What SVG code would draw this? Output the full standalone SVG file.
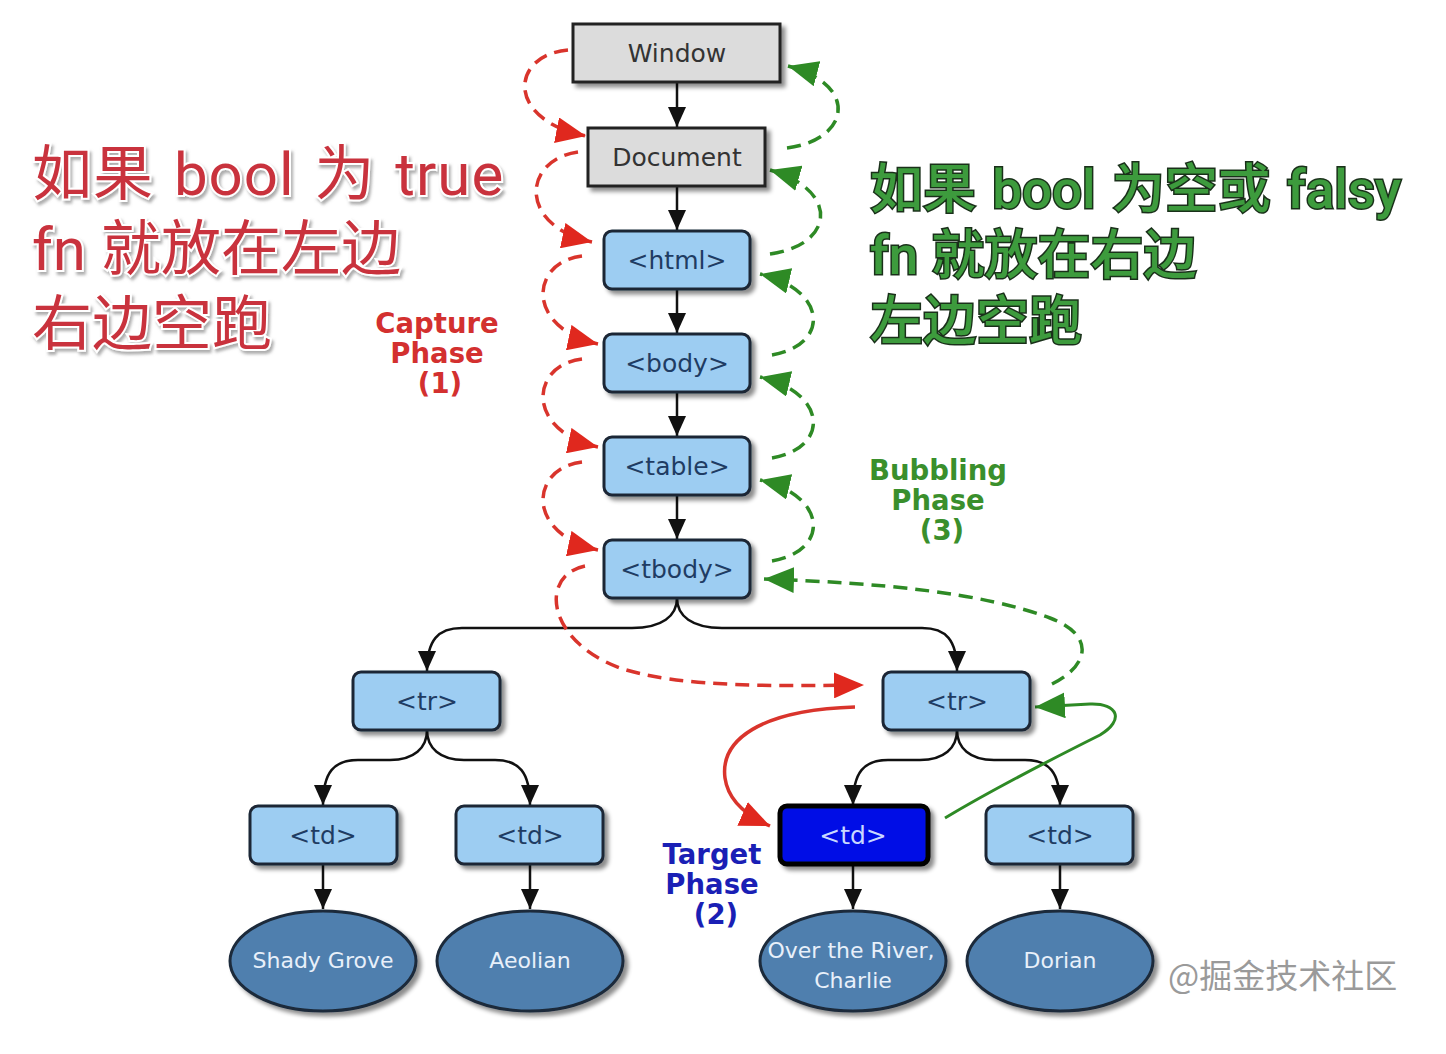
<svg xmlns="http://www.w3.org/2000/svg" width="1446" height="1054" viewBox="0 0 1446 1054">
<style>
.gbox{fill:#dcdcdc;stroke:#222;stroke-width:3}
.bbox{fill:#9dcdf2;stroke:#1c2836;stroke-width:3}
.tbox{fill:#0010e6;stroke:#000;stroke-width:5}
.ell{fill:#4f7fae;stroke:#1c2a3a;stroke-width:3}
.lbl{font-family:"DejaVu Sans",Verdana,sans-serif;font-size:25px;text-anchor:middle}
.dk{fill:#333}
.bl{fill:#1f3c63}
.wt{fill:#e8f0fa;font-size:22px}
.tl{fill:#c8d8ff}
.blk{fill:none;stroke:#111;stroke-width:2.5}
.rd{fill:none;stroke:#d9342c;stroke-width:3.5;stroke-dasharray:14 8}
.gd{fill:none;stroke:#2e8a25;stroke-width:3.5;stroke-dasharray:14 8}
.rs{fill:none;stroke:#d9342c;stroke-width:3.5}
.gs{fill:none;stroke:#2e8a25;stroke-width:3}
.phase{font-family:"DejaVu Sans",Verdana,sans-serif;font-weight:bold;font-size:27.5px;text-anchor:middle}
.big{font-family:Roboto,"Noto Sans CJK SC",sans-serif}
.redbig{fill:#c9333d;stroke:#fff;stroke-width:4;paint-order:stroke;font-size:60px}
.grnbig{fill:#3d9b3d;stroke:#1a301a;stroke-width:3;paint-order:stroke;font-size:53px;font-weight:500}
</style>
<defs>
<filter id="sh" x="-20%" y="-20%" width="140%" height="150%"><feDropShadow dx="4" dy="4" stdDeviation="2" flood-color="#000" flood-opacity="0.45"/></filter>
<filter id="tsh" x="-5%" y="-10%" width="110%" height="130%"><feDropShadow dx="2" dy="3" stdDeviation="1.5" flood-color="#777" flood-opacity="0.6"/></filter>
<marker id="ab" markerUnits="userSpaceOnUse" markerWidth="20" markerHeight="18" refX="20" refY="9" orient="auto"><path d="M0,0 L20,9 L0,18 z" fill="#111"/></marker>
<marker id="ar" markerUnits="userSpaceOnUse" markerWidth="30" markerHeight="26" refX="30" refY="13" orient="auto"><path d="M0,0 L30,13 L0,26 z" fill="#e0281e"/></marker>
<marker id="ag" markerUnits="userSpaceOnUse" markerWidth="30" markerHeight="26" refX="30" refY="13" orient="auto"><path d="M0,0 L30,13 L0,26 z" fill="#2e8a25"/></marker>
</defs>
<rect width="1446" height="1054" fill="#fff"/>

<g id="connectors">
<path class="blk" d="M677 82 L677 127" marker-end="url(#ab)"/>
<path class="blk" d="M677 186 L677 230" marker-end="url(#ab)"/>
<path class="blk" d="M677 289 L677 333" marker-end="url(#ab)"/>
<path class="blk" d="M677 392 L677 436" marker-end="url(#ab)"/>
<path class="blk" d="M677 495 L677 539" marker-end="url(#ab)"/>
<path class="blk" d="M677 598 C677 616 662 628 632 628 L462 628 C438 628 427 640 427 671" marker-end="url(#ab)"/>
<path class="blk" d="M677 598 C677 616 692 628 722 628 L922 628 C946 628 957 640 957 671" marker-end="url(#ab)"/>
<path class="blk" d="M427 730 C427 748 414 760 390 760 L358 760 C334 760 323 772 323 805" marker-end="url(#ab)"/>
<path class="blk" d="M427 730 C427 748 440 760 464 760 L495 760 C519 760 530 772 530 805" marker-end="url(#ab)"/>
<path class="blk" d="M957 730 C957 748 944 760 920 760 L888 760 C864 760 853 772 853 805" marker-end="url(#ab)"/>
<path class="blk" d="M957 730 C957 748 970 760 994 760 L1025 760 C1049 760 1060 772 1060 805" marker-end="url(#ab)"/>
<path class="blk" d="M323 864 L323 909" marker-end="url(#ab)"/>
<path class="blk" d="M530 864 L530 909" marker-end="url(#ab)"/>
<path class="blk" d="M853 866 L853 909" marker-end="url(#ab)"/>
<path class="blk" d="M1060 864 L1060 909" marker-end="url(#ab)"/>

<path class="rd" d="M568 50 C510 55 505 120 586 136" marker-end="url(#ar)"/>
<path class="rd" d="M578 152 C522 160 518 226 592 242" marker-end="url(#ar)"/>
<path class="rd" d="M582 256 C530 262 525 328 598 344" marker-end="url(#ar)"/>
<path class="rd" d="M582 359 C530 365 525 431 598 447" marker-end="url(#ar)"/>
<path class="rd" d="M582 462 C530 468 525 534 598 550" marker-end="url(#ar)"/>
<path class="rd" d="M585 566 C540 575 545 640 620 668 C680 688 780 686 864 685" marker-end="url(#ar)"/>
<path class="rs" d="M855 707 C760 710 720 740 725 778 C728 800 745 815 770 826" marker-end="url(#ar)"/>

<path class="gd" d="M787 148 C850 140 860 85 788 66" marker-end="url(#ag)"/>
<path class="gd" d="M770 254 C835 245 840 190 770 170" marker-end="url(#ag)"/>
<path class="gd" d="M772 355 C830 345 828 290 760 274" marker-end="url(#ag)"/>
<path class="gd" d="M772 458 C830 448 828 393 760 377" marker-end="url(#ag)"/>
<path class="gd" d="M772 561 C830 551 828 496 760 480" marker-end="url(#ag)"/>
<path class="gd" d="M1052 684 C1090 665 1095 635 1050 618 C980 592 880 583 764 579" marker-end="url(#ag)"/>
<path class="gs" d="M945 818 C1000 785 1070 750 1100 735 C1125 720 1118 703 1090 704 L1035 707" marker-end="url(#ag)"/>
</g>

<g id="window"><rect class="gbox" x="573" y="24" width="207" height="58" filter="url(#sh)"/><text class="lbl dk" x="677" y="62">Window</text></g>
<g id="document"><rect class="gbox" x="588" y="128" width="177" height="58" filter="url(#sh)"/><text class="lbl dk" x="677" y="166">Document</text></g>
<g id="html"><rect class="bbox" x="604" y="231" width="146" height="58" rx="8" filter="url(#sh)"/><text class="lbl bl" x="677" y="269">&lt;html&gt;</text></g>
<g id="body"><rect class="bbox" x="604" y="334" width="146" height="58" rx="8" filter="url(#sh)"/><text class="lbl bl" x="677" y="372">&lt;body&gt;</text></g>
<g id="table"><rect class="bbox" x="604" y="437" width="146" height="58" rx="8" filter="url(#sh)"/><text class="lbl bl" x="677" y="475">&lt;table&gt;</text></g>
<g id="tbody"><rect class="bbox" x="604" y="540" width="146" height="58" rx="8" filter="url(#sh)"/><text class="lbl bl" x="677" y="578">&lt;tbody&gt;</text></g>
<g id="tr1"><rect class="bbox" x="353" y="672" width="147" height="58" rx="8" filter="url(#sh)"/><text class="lbl bl" x="427" y="710">&lt;tr&gt;</text></g>
<g id="tr2"><rect class="bbox" x="883" y="672" width="147" height="58" rx="8" filter="url(#sh)"/><text class="lbl bl" x="957" y="710">&lt;tr&gt;</text></g>
<g id="td1"><rect class="bbox" x="250" y="806" width="147" height="58" rx="8" filter="url(#sh)"/><text class="lbl bl" x="323" y="844">&lt;td&gt;</text></g>
<g id="td2"><rect class="bbox" x="456" y="806" width="147" height="58" rx="8" filter="url(#sh)"/><text class="lbl bl" x="530" y="844">&lt;td&gt;</text></g>
<g id="td3"><rect class="tbox" x="780" y="806" width="148" height="58" rx="7" filter="url(#sh)"/><text class="lbl tl" x="853" y="844">&lt;td&gt;</text></g>
<g id="td4"><rect class="bbox" x="986" y="806" width="147" height="58" rx="8" filter="url(#sh)"/><text class="lbl bl" x="1060" y="844">&lt;td&gt;</text></g>
<g id="e1"><ellipse class="ell" cx="323" cy="961" rx="93" ry="50" filter="url(#sh)"/><text class="lbl wt" x="323" y="968">Shady Grove</text></g>
<g id="e2"><ellipse class="ell" cx="530" cy="961" rx="93" ry="50" filter="url(#sh)"/><text class="lbl wt" x="530" y="968">Aeolian</text></g>
<g id="e3"><ellipse class="ell" cx="853" cy="961" rx="93" ry="50" filter="url(#sh)"/><text class="lbl wt" x="851" y="958">Over the River,<tspan x="853" dy="30">Charlie</tspan></text></g>
<g id="e4"><ellipse class="ell" cx="1060" cy="961" rx="93" ry="50" filter="url(#sh)"/><text class="lbl wt" x="1060" y="968">Dorian</text></g>

<g id="capture-label"><text class="phase" fill="#d3302f" x="437" y="333">Capture<tspan x="437" dy="30">Phase</tspan><tspan x="440" dy="30">(1)</tspan></text></g>
<g id="bubbling-label"><text class="phase" fill="#3a8f2c" x="938" y="480">Bubbling<tspan x="938" dy="30">Phase</tspan><tspan x="942" dy="30">(3)</tspan></text></g>
<g id="target-label"><text class="phase" fill="#1a1fb5" x="712" y="864">Target<tspan x="712" dy="30">Phase</tspan><tspan x="716" dy="30">(2)</tspan></text></g>

<g id="note-left" filter="url(#tsh)"><text class="big redbig" x="32" y="195"><tspan word-spacing="4" letter-spacing="1">如果 bool 为 true</tspan><tspan x="32" dy="75">fn 就放在左边</tspan><tspan x="32" dy="75">右边空跑</tspan></text></g>
<g id="note-right"><text class="big grnbig" x="870" y="208"><tspan word-spacing="3">如果 bool 为空或 falsy</tspan><tspan x="870" dy="66">fn 就放在右边</tspan><tspan x="870" dy="66">左边空跑</tspan></text></g>
<text x="1168" y="988" font-family="'Noto Sans CJK SC',sans-serif" font-size="33" fill="#9a9a9a">@掘金技术社区</text>
</svg>
